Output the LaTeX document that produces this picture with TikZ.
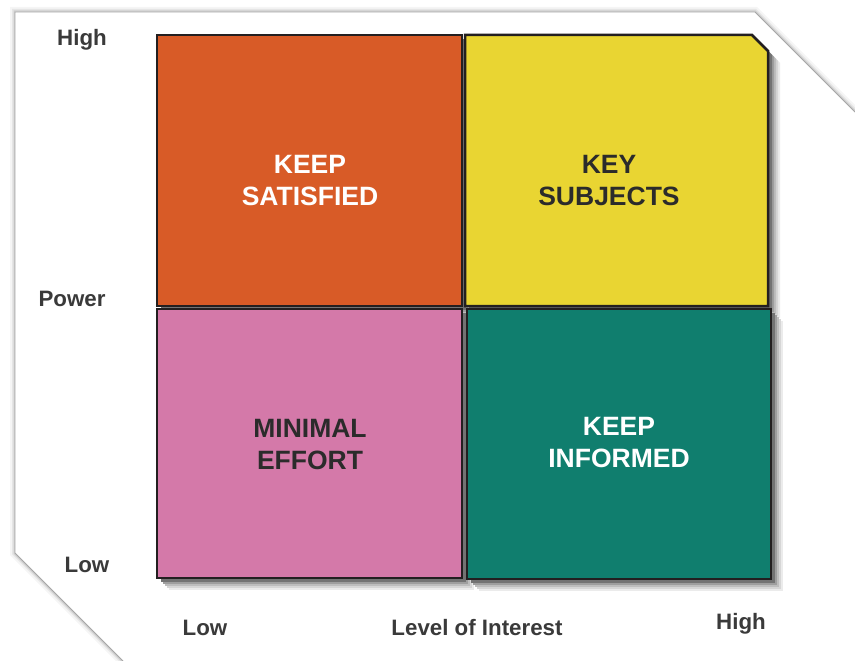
\documentclass[tikz,border=0pt]{standalone}
\usepackage{fontspec}
\setmainfont{Liberation Sans}
\definecolor{satorange}{HTML}{D85B27}
\definecolor{keyyellow}{HTML}{E9D532}
\definecolor{minpink}{HTML}{D479A9}
\definecolor{infteal}{HTML}{107E6E}
\definecolor{edgedark}{HTML}{231F20}
\definecolor{axisgray}{HTML}{3A3A3A}
\definecolor{inkdark}{HTML}{2B2B2B}
\begin{document}
\begin{tikzpicture}[x=1pt,y=-1pt,
    quad/.style={draw=edgedark,line width=2.5pt,line join=miter},
    axislabel/.style={text=axisgray,font=\fontsize{22.3}{24}\selectfont\bfseries},
    quadlabel/.style={align=center,font=\fontsize{26.5}{32}\selectfont\bfseries}]
    \useasboundingbox (0,0) rectangle (855,661);

    % frame with a soft edge
    \draw[gray!8, line width=10pt] (855,112) -- (755,12) -- (15,12) -- (15,553) -- (123,661);
    \draw[gray!20, line width=6pt] (855,112) -- (755,12) -- (15,12) -- (15,553) -- (123,661);
    \draw[gray!38, line width=3pt] (855,112) -- (755,12) -- (15,12) -- (15,553) -- (123,661);
    \fill[white] (15,12) -- (755,12) -- (855,112) -- (855,661) -- (123,661) -- (15,553) -- cycle;
    \draw[gray!70, line width=0.8pt] (855,112) -- (755,12) -- (15,12) -- (15,553) -- (123,661);

    % shadows
    \foreach \d/\c in {12/8,10/16,8/26,6/38,4/55} {
        \fill[black!\c] (157+\d,35+\d) rectangle (462+\d,306+\d);
        \fill[black!\c] (465+\d,35+\d) -- (752+\d,35+\d) -- (768+\d,51+\d) -- (768+\d,306+\d) -- (465+\d,306+\d) -- cycle;
        \fill[black!\c] (157+\d,309+\d) rectangle (462+\d,578+\d);
        \fill[black!\c] (467+\d,309+\d) rectangle (771+\d,579+\d);
    }

    % quadrants
    \draw[quad, fill=keyyellow] (465,35) -- (752,35) -- (768,51) -- (768,306) -- (465,306) -- cycle;
    \draw[quad, fill=infteal] (467,309) rectangle (771,579);
    \draw[quad, fill=satorange] (157,35) rectangle (462,306);
    \draw[quad, fill=minpink] (157,309) rectangle (462,578);

    \node[quadlabel, text=white] (ks) at (310,181) {KEEP\\SATISFIED};
    \node[quadlabel, text=inkdark] (ksub) at (609,181) {KEY\\SUBJECTS};
    \node[quadlabel, text=inkdark] (me) at (310,445) {MINIMAL\\EFFORT};
    \node[quadlabel, text=white] (ki) at (619,443) {KEEP\\INFORMED};

    % axis labels
    \node[axislabel] (powhigh) at (82,40) {High};
    \node[axislabel] (power) at (72,299) {Power};
    \node[axislabel] (powlow) at (87,565) {Low};
    \node[axislabel] (intlow) at (205,628) {Low};
    \node[axislabel] (interest) at (477,628) {Level of Interest};
    \node[axislabel] (inthigh) at (741,624) {High};
\end{tikzpicture}
\end{document}
